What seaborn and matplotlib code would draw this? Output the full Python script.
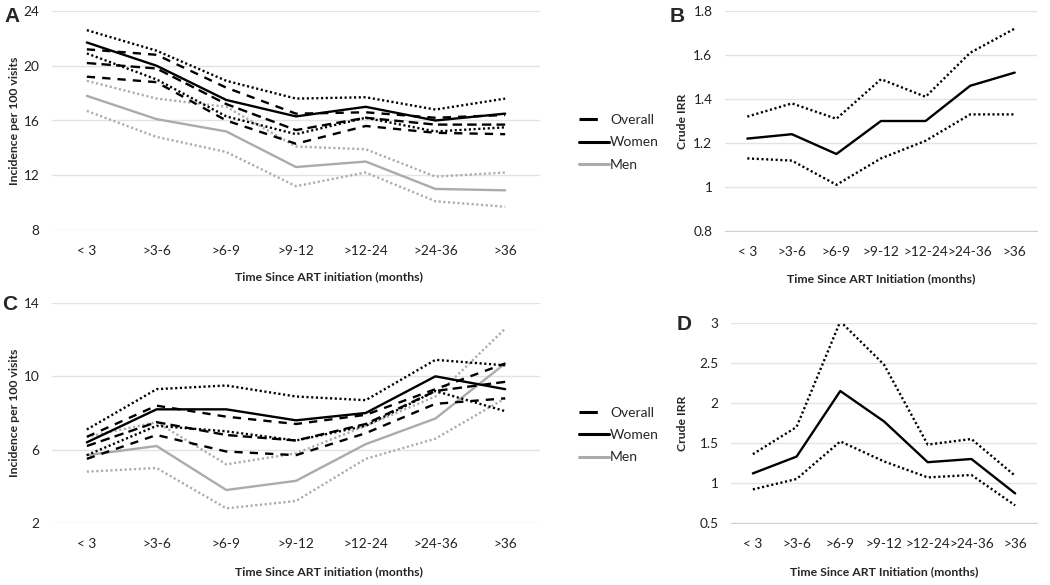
import matplotlib
matplotlib.use("Agg")
import matplotlib.pyplot as plt
from matplotlib.lines import Line2D
import seaborn as sns

periods = ["< 3", ">3-6", ">6-9", ">9-12", ">12-24", ">24-36", ">36"]

# Panel A: incidence per 100 visits
a_overall = [20.2, 19.8, 17.2, 15.3, 16.2, 15.7, 15.7]
a_overall_hi = [21.2, 20.8, 18.4, 16.5, 16.6, 16.2, 16.4]
a_overall_lo = [19.2, 18.8, 16.0, 14.3, 15.6, 15.1, 15.0]
a_women = [21.7, 20.0, 17.5, 16.3, 17.0, 16.0, 16.5]
a_women_hi = [22.6, 21.1, 18.9, 17.6, 17.7, 16.8, 17.6]
a_women_lo = [20.9, 19.0, 16.3, 15.0, 16.2, 15.2, 15.5]
a_men = [17.8, 16.1, 15.2, 12.6, 13.0, 11.0, 10.9]
a_men_hi = [18.9, 17.6, 17.0, 14.1, 13.9, 11.9, 12.2]
a_men_lo = [16.7, 14.8, 13.7, 11.2, 12.2, 10.1, 9.7]

# Panel C: incidence per 100 visits
c_overall = [6.2, 7.5, 6.8, 6.5, 7.4, 9.2, 9.7]
c_overall_hi = [6.7, 8.4, 7.8, 7.4, 7.9, 9.3, 10.7]
c_overall_lo = [5.5, 6.8, 5.9, 5.7, 6.9, 8.5, 8.8]
c_women = [6.4, 8.2, 8.2, 7.6, 8.0, 10.0, 9.3]
c_women_hi = [7.1, 9.3, 9.5, 8.9, 8.7, 10.9, 10.6]
c_women_lo = [5.7, 7.3, 7.0, 6.5, 7.3, 9.2, 8.1]
c_men = [5.7, 6.2, 3.8, 4.3, 6.3, 7.7, 10.7]
c_men_hi = [6.7, 7.5, 5.2, 5.8, 7.3, 8.9, 12.6]
c_men_lo = [4.8, 5.0, 2.8, 3.2, 5.5, 6.6, 8.8]

# Panel B / D: crude IRR with CI
b_irr = [1.22, 1.24, 1.15, 1.30, 1.30, 1.46, 1.52]
b_hi = [1.32, 1.38, 1.31, 1.49, 1.41, 1.61, 1.72]
b_lo = [1.13, 1.12, 1.01, 1.13, 1.21, 1.33, 1.33]
d_irr = [1.12, 1.33, 2.15, 1.77, 1.26, 1.30, 0.87]
d_hi = [1.36, 1.70, 3.02, 2.48, 1.48, 1.55, 1.09]
d_lo = [0.92, 1.05, 1.52, 1.27, 1.07, 1.10, 0.72]

sns.set_style("white")
plt.rcParams["font.family"] = ["Lato", "DejaVu Sans"]

BLACK = "#000000"
GRAY = "#ABABAB"
GRID = "#E3E3E3"
LW = 1.7
DOT = (0, (0.9, 1.1))
DASH = (0, (4, 2.2))
DASH_CI = (0, (3.5, 3))

W, H = 1050, 585
fig = plt.figure(figsize=(W / 100, H / 100), dpi=100)


def px_axes(left, top, right, bottom):
    return fig.add_axes([left / W, 1 - bottom / H, (right - left) / W, (bottom - top) / H])


def style_axis(ax, ylim, yticks, yticklabels, ylabel, xlabel, ticks_between=False):
    ax.set_xlim(-0.5, 6.5)
    ax.set_ylim(*ylim)
    ax.set_yticks(yticks)
    ax.set_yticklabels(yticklabels)
    ax.yaxis.grid(True, color=GRID, lw=1)
    ax.xaxis.grid(False)
    ax.set_axisbelow(True)
    for s in ax.spines.values():
        s.set_visible(False)
    ax.tick_params(axis="both", length=0, labelsize=9.8, colors="#222222")
    ax.tick_params(axis="x", pad=11)
    ax.tick_params(axis="y", pad=9)
    ax.set_ylabel(ylabel, fontsize=8.8, fontweight="bold")
    ax.set_xlabel(xlabel, fontsize=8.8, fontweight="bold")
    if ticks_between:
        ax.spines["bottom"].set_visible(True)
        ax.spines["bottom"].set_color("#D0D0D0")
        ax.set_xticks([i - 0.5 for i in range(8)], minor=True)
        ax.tick_params(axis="x", which="minor", length=5, color="#D0D0D0", width=1)


def draw(ax, y, color, ls):
    sns.lineplot(x=periods, y=y, ax=ax, color=color, linestyle=ls, lw=LW, sort=False)


def incidence_panel(ax, overall, o_hi, o_lo, women, w_hi, w_lo, men, m_hi, m_lo):
    draw(ax, m_lo, GRAY, DOT)
    draw(ax, m_hi, GRAY, DOT)
    draw(ax, men, GRAY, "-")
    draw(ax, o_lo, BLACK, DASH_CI)
    draw(ax, o_hi, BLACK, DASH_CI)
    draw(ax, w_lo, BLACK, DOT)
    draw(ax, w_hi, BLACK, DOT)
    draw(ax, overall, BLACK, DASH)
    draw(ax, women, BLACK, "-")
    handles = [
        Line2D([], [], color=BLACK, lw=2.2, linestyle=(0, (6, 10))),
        Line2D([], [], color=BLACK, lw=2.2),
        Line2D([], [], color=GRAY, lw=2.2),
    ]
    ax.legend(handles, ["Overall", "Women", "Men"], loc="center left",
              bbox_to_anchor=(1.055, 0.40), frameon=False, fontsize=10,
              handlelength=2.1, handletextpad=0.1, labelspacing=0.75)


def irr_panel(ax, irr, hi, lo):
    draw(ax, hi, BLACK, DOT)
    draw(ax, lo, BLACK, DOT)
    draw(ax, irr, BLACK, "-")


# Panel A
axA = px_axes(52, 11, 540, 230)
incidence_panel(axA, a_overall, a_overall_hi, a_overall_lo, a_women, a_women_hi, a_women_lo,
                a_men, a_men_hi, a_men_lo)
style_axis(axA, (8, 24), [8, 12, 16, 20, 24], ["8", "12", "16", "20", "24"],
           "Incidence per 100 visits", "Time Since ART initiation (months)")
axA.xaxis.set_label_coords(0.567, -0.19)
axA.yaxis.set_label_coords(-0.065, 0.5)

# Panel B
axB = px_axes(725, 11, 1037, 231)
irr_panel(axB, b_irr, b_hi, b_lo)
style_axis(axB, (0.8, 1.8), [0.8, 1.0, 1.2, 1.4, 1.6, 1.8], ["0.8", "1", "1.2", "1.4", "1.6", "1.8"],
           "Crude IRR", "Time Since ART Initiation (months)", ticks_between=True)
axB.xaxis.set_label_coords(0.5, -0.19)
axB.yaxis.set_label_coords(-0.119, 0.5)

# Panel C
axC = px_axes(52, 303, 540, 523)
incidence_panel(axC, c_overall, c_overall_hi, c_overall_lo, c_women, c_women_hi, c_women_lo,
                c_men, c_men_hi, c_men_lo)
style_axis(axC, (2, 14), [2, 6, 10, 14], ["2", "6", "10", "14"],
           "Incidence per 100 visits", "Time Since ART initiation (months)")
axC.xaxis.set_label_coords(0.567, -0.195)
axC.yaxis.set_label_coords(-0.065, 0.5)

# Panel D
axD = px_axes(731, 323, 1037, 523)
irr_panel(axD, d_irr, d_hi, d_lo)
style_axis(axD, (0.5, 3), [0.5, 1, 1.5, 2, 2.5, 3], ["0.5", "1", "1.5", "2", "2.5", "3"],
           "Crude IRR", "Time Since ART Initiation (months)", ticks_between=True)
axD.xaxis.set_label_coords(0.5, -0.215)
axD.yaxis.set_label_coords(-0.14, 0.5)

# panel letters
for letter, (x, y) in {"A": (12, 17), "B": (677, 16), "C": (10, 305), "D": (684, 325)}.items():
    fig.text(x / W, 1 - y / H, letter, ha="center", va="center", fontsize=15,
             fontweight="bold", family=["Liberation Sans", "DejaVu Sans"])

fig.savefig("out.png", dpi=100)
